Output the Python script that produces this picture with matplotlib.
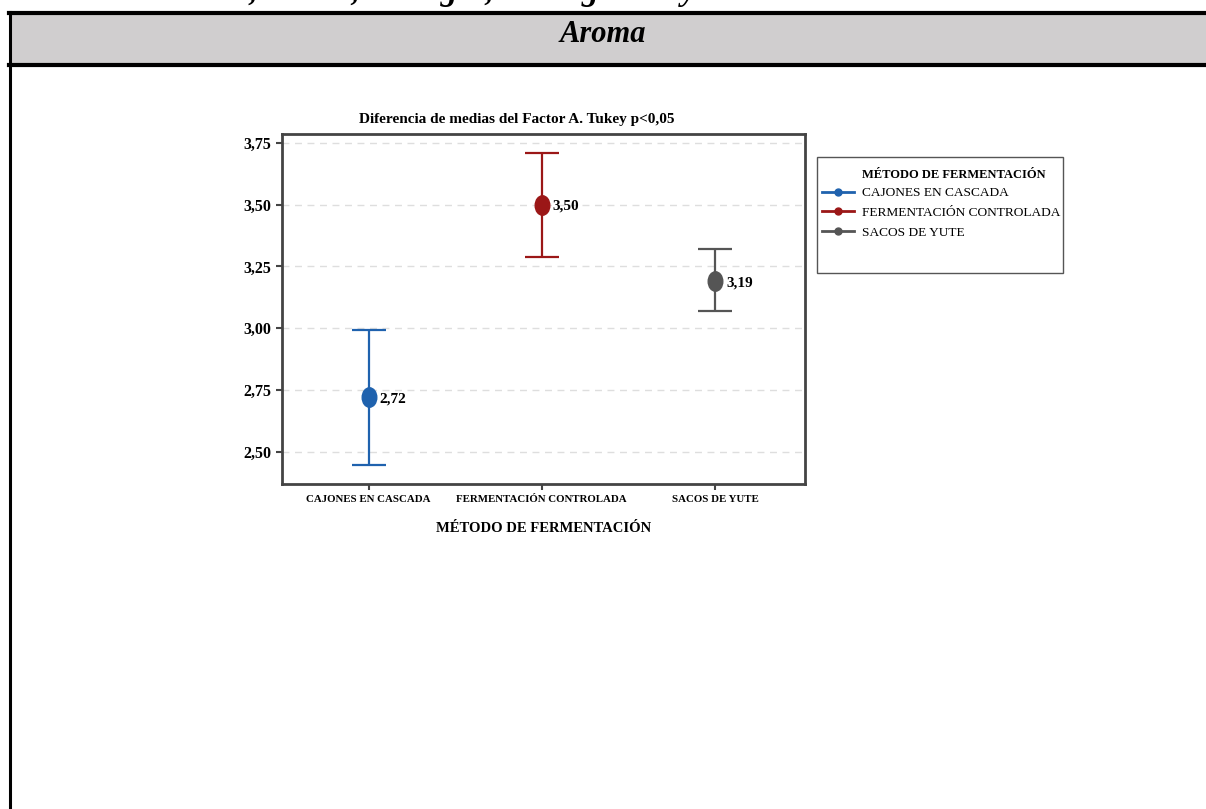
import matplotlib
matplotlib.use("Agg")
import matplotlib.pyplot as plt
from matplotlib.patches import Rectangle
from matplotlib.lines import Line2D
from matplotlib.path import Path
from matplotlib.transforms import Affine2D

# datos (Tukey, Factor A)
metodos = ["CAJONES EN CASCADA", "FERMENTACIÓN CONTROLADA", "SACOS DE YUTE"]
medias = [2.72, 3.50, 3.19]
limite_inf = [2.447, 3.29, 3.07]
limite_sup = [2.995, 3.71, 3.32]
etiquetas = ["2,72", "3,50", "3,19"]
colores = ["#1f62ae", "#9b1717", "#555555"]
yticks = [2.50, 2.75, 3.00, 3.25, 3.50, 3.75]
ytick_labels = ["2,50", "2,75", "3,00", "3,25", "3,50", "3,75"]

W, H = 1206, 809
plt.rcParams['font.family'] = ['Liberation Serif', 'DejaVu Serif']

fig = plt.figure(figsize=(W / 100, H / 100), dpi=100)


def fx(px):
    return px / W


def fy(py):
    return 1 - py / H


# encabezado tipo tabla
fig.patches.append(Rectangle((fx(10), fy(65)), 1 - fx(10), fy(13) - fy(65),
                             transform=fig.transFigure, facecolor="#d0cecf",
                             edgecolor="none", zorder=0))
fig.add_artist(Line2D([fx(9), 1], [fy(13), fy(13)], color="black", lw=3))
fig.add_artist(Line2D([fx(9), 1], [fy(65), fy(65)], color="black", lw=3))
fig.add_artist(Line2D([fx(10), fx(10)], [fy(12), 0], color="black", lw=2.2))
fig.text(0.5, fy(35), "Aroma", ha="center", va="center", fontsize=22,
         fontweight="bold", fontstyle="italic")
# texto cortado arriba (solo se ve la parte inferior)
fig.text(fx(160), fy(0), "aroma, acidez, amargor, astringencia y calidad.",
         ha="left", va="baseline", fontsize=24, fontweight="bold",
         fontstyle="italic")

ax = fig.add_axes([fx(282), fy(484), fx(805) - fx(282), fy(134) - fy(484)])

elipse = Path.unit_circle().transformed(Affine2D().scale(0.75, 1.0))
for i in range(len(metodos)):
    m = medias[i]
    ax.errorbar(i, m, yerr=[[m - limite_inf[i]], [limite_sup[i] - m]],
                fmt="none", ecolor=colores[i], elinewidth=1.6, capsize=12.5,
                capthick=1.6, zorder=3)
    ax.plot(i, m, marker=elipse, markersize=14, color=colores[i],
            linestyle="none", zorder=4)
    ax.annotate(etiquetas[i], (i, m), xytext=(8, -1), textcoords="offset points",
                ha="left", va="center", fontsize=11, fontweight="bold")

ax.set_xlim(-0.5, 2.52)
ax.set_ylim(2.37, 3.786)
ax.set_xticks(range(len(metodos)))
ax.set_xticklabels(metodos, fontsize=7.8, fontweight="bold")
ax.set_yticks(yticks)
ax.set_yticklabels(ytick_labels, fontsize=11.5, fontweight="bold")
ax.yaxis.grid(True, linestyle=(0, (5, 4)), color="#dedede", lw=1)
ax.set_axisbelow(True)
for s in ax.spines.values():
    s.set_color("#444444")
    s.set_linewidth(2)
ax.tick_params(axis="both", color="#444444", width=1.5, length=4, pad=4)
ax.set_xlabel("MÉTODO DE FERMENTACIÓN", fontsize=10.5, fontweight="bold", labelpad=13)

fig.text(fx(517), fy(119), "Diferencia de medias del Factor A. Tukey p<0,05",
         ha="center", va="center", fontsize=11, fontweight="bold")

# leyenda
fig.patches.append(Rectangle((fx(817), fy(273)), fx(1063) - fx(817), fy(157) - fy(273),
                             transform=fig.transFigure, facecolor="white",
                             edgecolor="#555555", lw=1))
fig.text(fx(862), fy(175), "MÉTODO DE FERMENTACIÓN", ha="left", va="center",
         fontsize=9, fontweight="bold")
handles = [Line2D([0], [0], color=c, lw=2, marker="o", markersize=5) for c in colores]
fig.legend(handles, metodos, loc="upper left", bbox_to_anchor=(fx(822), fy(187)),
           frameon=False, fontsize=9.6, handlelength=2.4, handletextpad=0.6,
           labelspacing=0.55, borderpad=0, borderaxespad=0)

fig.savefig("out.png", dpi=100)
